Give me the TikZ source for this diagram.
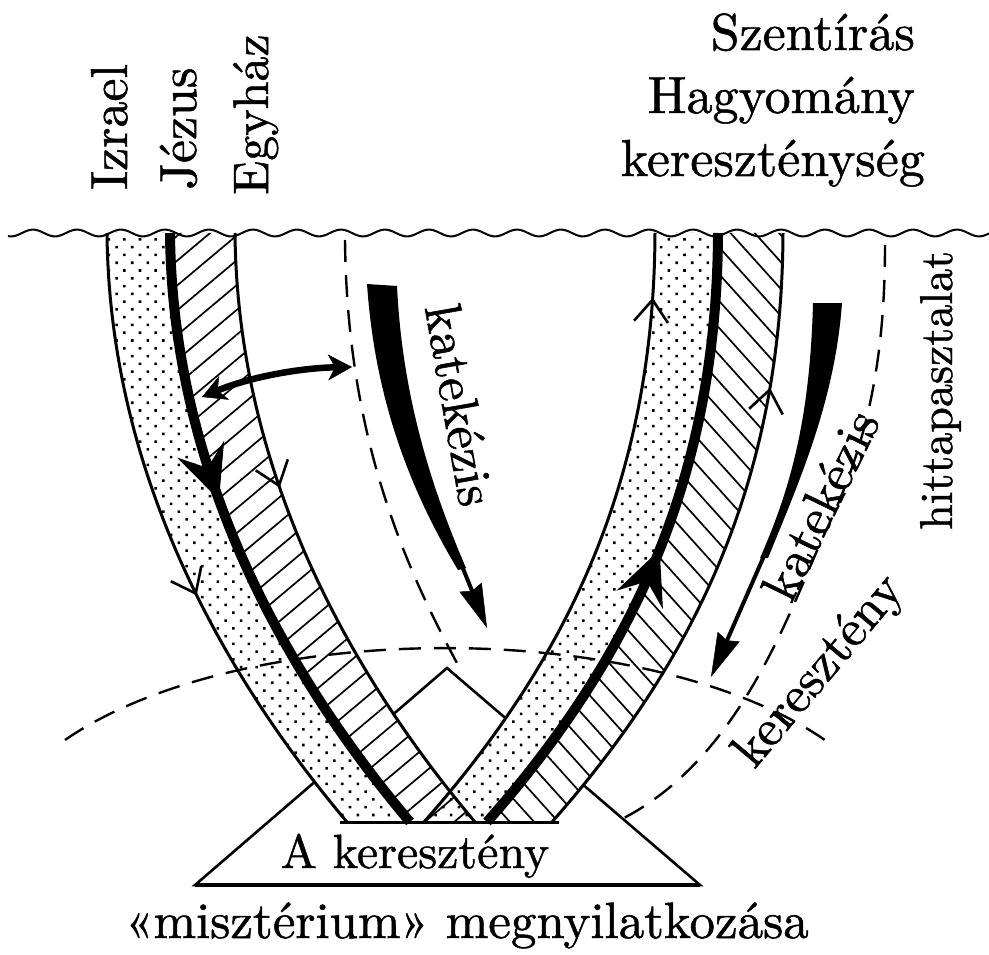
\documentclass[tikz,border=0pt]{standalone}
\usepackage{fontspec}
\setmainfont{lmroman10-regular.otf}[FakeBold=1]
\usetikzlibrary{patterns.meta,arrows.meta,decorations.markings}
\tikzset{
  headtip/.tip={Stealth[length=44pt,width=24pt,inset=4pt,line width=0.5pt]},
  dbltip/.tip={Stealth[length=24pt,width=26pt,inset=7pt,line width=0.5pt]}
}
\begin{document}
\begin{tikzpicture}[x=1pt,y=-1pt,
  lbl/.style={font=\fontsize{52}{60}\selectfont, inner sep=0pt},
  edgeline/.style={line width=3pt},
  jesusline/.style={line width=10pt},
  dashline/.style={line width=2.4pt, dash pattern=on 22pt off 13pt},
  dotfill/.style={pattern={Dots[radius=1.8pt,distance=11pt,angle=45]}},
  hatchL/.style={pattern={Lines[angle=40,distance=19pt,line width=1.7pt]}},
  hatchR/.style={pattern={Lines[angle=-48,distance=18pt,line width=1.7pt]}},
  chevdown/.style={postaction={decorate}, decoration={markings,
     mark=at position #1 with {\arrow{Straight Barb[length=22pt,width=34pt,line width=2.6pt]}}}},
  chevup/.style={postaction={decorate}, decoration={markings,
     mark=at position #1 with {\arrowreversed{Straight Barb[length=22pt,width=34pt,line width=2.6pt]}}}},
  bigdown/.style={postaction={decorate}, decoration={markings,
     mark=at position #1 with {\arrow{Stealth[length=54pt,width=50pt,inset=20pt,line width=1pt]}}}},
  bigup/.style={postaction={decorate}, decoration={markings,
     mark=at position #1 with {\arrowreversed{Stealth[length=54pt,width=50pt,inset=20pt,line width=1pt]}}}}
]
\useasboundingbox (0,0) rectangle (989,955);

% triangle "A kereszteny"
\draw[line width=2.6pt, fill=white, line join=miter] (195,885) -- (447,668) -- (700,885) -- cycle;
\draw[line width=3.4pt] (195,885) -- (700,885);

% dashed curves
\draw[dashline] (345,240) .. controls (347,430) and (400,560) .. (463,674);
\draw[dashline] (885,245) .. controls (885,380) and (860,460) .. (823,537)
   .. controls (790,610) and (740,760) .. (620,820);

% band fills
\fill[white] (107,233) .. controls (109,450) and (202,650) .. (347,822) -- (475,822)
   .. controls (330,650) and (237,450) .. (235,233) -- cycle;
\fill[white] (655,233) .. controls (654,480) and (567,660) .. (424,822) -- (552,822)
   .. controls (695,660) and (782,480) .. (783,233) -- cycle;
\fill[dotfill] (107,233) .. controls (109,450) and (202,650) .. (347,822) -- (410,822)
   .. controls (265,650) and (172,450) .. (170,233) -- cycle;
\fill[hatchL] (170,233) .. controls (172,450) and (265,650) .. (410,822) -- (475,822)
   .. controls (330,650) and (237,450) .. (235,233) -- cycle;
\fill[dotfill] (655,233) .. controls (654,480) and (567,660) .. (424,822) -- (487,822)
   .. controls (630,660) and (717,480) .. (718,233) -- cycle;
\fill[hatchR] (718,233) .. controls (717,480) and (630,660) .. (487,822) -- (552,822)
   .. controls (695,660) and (782,480) .. (783,233) -- cycle;

% band edges
\draw[edgeline, chevdown=0.58] (107,233) .. controls (109,450) and (202,650) .. (347,822);
\draw[edgeline, chevdown=0.40] (235,233) .. controls (237,450) and (330,650) .. (475,822);
\draw[edgeline, chevup=0.10] (655,233) .. controls (654,480) and (567,660) .. (424,822);
\draw[edgeline, chevup=0.24] (783,233) .. controls (782,480) and (695,660) .. (552,822);
\draw[edgeline] (340,822) -- (559,822);
\draw[jesusline, bigdown=0.42] (170,233) .. controls (172,450) and (265,650) .. (410,822);
\draw[jesusline, bigup=0.50] (718,233) .. controls (717,480) and (630,660) .. (487,822);

% large dashed arc
\draw[dashline] (65,740) arc[start angle=212.4, end angle=327.6, x radius=450, y radius=198];

% double arrow
\coordinate (da1) at (202,397);
\coordinate (da2) at (352,367);
\draw[line width=6.5pt, dbltip-dbltip] (da1) .. controls (250,377) and (300,368) .. (da2);

% left katekezis wedge
\fill (367,284) .. controls (375,400) and (410,490) .. (458,570)
   -- (466,568) .. controls (428,480) and (402,390) .. (397,286) -- cycle;
\coordinate (k1s) at (462,566);
\coordinate (k1e) at (487,628);
\draw[line width=4pt, -headtip] (k1s) -- (k1e);

% right katekezis wedge
\fill (813,303) .. controls (810,420) and (790,490) .. (760,558)
   -- (768,558) .. controls (800,480) and (835,400) .. (842,303) -- cycle;
\coordinate (k2s) at (764,556);
\coordinate (k2e) at (711,677);
\draw[line width=4pt, -headtip] (k2s) -- (k2e);

% wavy surface
\draw[line width=2pt] plot[domain=8:989, samples=400, smooth] (\x,{233+3.4*sin(8.1818*\x)});

% labels
\node[lbl, rotate=90, anchor=base west] (izrael) at (127,190) {Izrael};
\node[lbl, rotate=90, anchor=base west] (jezus) at (196,190) {Jézus};
\node[lbl, rotate=90, anchor=base west, font=\fontsize{50}{60}\selectfont] (egyhaz) at (268,195) {Egyház};
\node[lbl, anchor=base east] (szent) at (915,50) {Szentírás};
\node[lbl, anchor=base east] (hagy) at (915,113) {Hagyomány};
\node[lbl, anchor=base east] (kerseg) at (925,176) {kereszténység};
\node[lbl, rotate=-80] (kat1) at (460,405) {katekézis};
\node[lbl, rotate=64] (kat2) at (820,505) {katekézis};
\node[lbl, rotate=50] (ker2) at (820,672) {keresztény};
\node[lbl, rotate=90, anchor=base west, font=\fontsize{46}{60}\selectfont] (hit) at (952,530) {hittapasztalat};
\node[lbl, anchor=base, font=\fontsize{48}{60}\selectfont] (aker) at (415,868) {A keresztény};
\node[lbl, anchor=base, font=\fontsize{51}{60}\selectfont] (miszt) at (467,938) {«misztérium» megnyilatkozása};
\end{tikzpicture}
\end{document}
